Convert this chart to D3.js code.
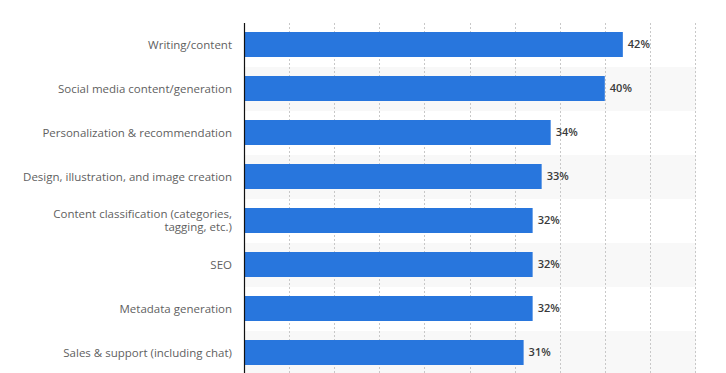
<!DOCTYPE html>
<html>
<head>
<meta charset="utf-8">
<script src="https://cdn.jsdelivr.net/npm/d3@7"></script>
<style>
  body { margin: 0; background: #fff; }
  svg { display: block; }
  .label { font-family: "Open Sans", sans-serif; font-size: 11.5px; fill: #5f5f5f; }
  .value { font-family: "Open Sans", sans-serif; font-size: 11px; font-weight: 600; fill: #3a3a3a; }
</style>
</head>
<body>
<script>
//chart values
var categories = [
    "Writing/content",
    "Social media content/generation",
    "Personalization & recommendation",
    "Design, illustration, and image creation",
    "Content classification (categories, tagging, etc.)",
    "SEO",
    "Metadata generation",
    "Sales & support (including chat)"
];
var shares = [42, 40, 34, 33, 32, 32, 32, 31];
var tickValues = [5, 10, 15, 20, 25, 30, 35, 40, 45, 50];

window.onload = drawChart();

function drawChart(){
    //frame dimensions
    var width = 726,
        height = 373,
        left = 244,
        top = 23,
        plotRight = 695,
        rowStep = 44,
        barHeight = 25;

    var svg = d3.select("body")
        .append("svg")
        .attr("width", width)
        .attr("height", height);

    //scales
    var x = d3.scaleLinear()
        .domain([0, 50])
        .range([left, plotRight]);

    var y = d3.scaleBand()
        .domain(categories)
        .range([top, top + rowStep * categories.length])
        .padding(0);

    //alternating row stripes
    svg.selectAll(".stripe")
        .data(categories.filter(function(d, i){ return i % 2 == 1; }))
        .enter()
        .append("rect")
        .attr("class", "stripe")
        .attr("x", x(0))
        .attr("y", function(d){ return y(d); })
        .attr("width", x(50) - x(0) + 1)
        .attr("height", y.bandwidth())
        .attr("fill", "#f8f8f8");

    //dotted vertical grid lines
    svg.selectAll(".grid")
        .data(tickValues)
        .enter()
        .append("line")
        .attr("class", "grid")
        .attr("x1", function(d){ return Math.round(x(d)) + 0.5; })
        .attr("x2", function(d){ return Math.round(x(d)) + 0.5; })
        .attr("y1", top)
        .attr("y2", height)
        .attr("stroke", "#c8c8c8")
        .attr("stroke-width", 1)
        .attr("stroke-dasharray", "2,2");

    //bars
    var barOffset = (y.bandwidth() - barHeight) / 2 - 0.5;
    svg.selectAll(".bar")
        .data(categories)
        .enter()
        .append("rect")
        .attr("class", "bar")
        .attr("x", x(0))
        .attr("y", function(d){ return y(d) + barOffset; })
        .attr("width", function(d, i){ return x(shares[i]) - x(0); })
        .attr("height", barHeight)
        .attr("fill", "#2876dd");

    //value labels
    svg.selectAll(".value")
        .data(categories)
        .enter()
        .append("text")
        .attr("class", "value")
        .attr("x", function(d, i){ return x(shares[i]) + 5; })
        .attr("y", function(d){ return y(d) + barOffset + barHeight / 2; })
        .attr("dy", "0.35em")
        .text(function(d, i){ return shares[i] + "%"; });

    //category labels, wrapped when too long
    var labels = svg.selectAll(".label")
        .data(categories)
        .enter()
        .append("text")
        .attr("class", "label")
        .attr("text-anchor", "end")
        .attr("y", function(d){ return y(d) + barOffset + barHeight / 2; });

    labels.each(function(d){
        var text = d3.select(this),
            lines = d.length > 45 ? [d.slice(0, d.indexOf("tagging") - 1), d.slice(d.indexOf("tagging"))] : [d],
            lineHeight = 13.7,
            start = -(lines.length - 1) * lineHeight / 2;
        lines.forEach(function(line, i){
            text.append("tspan")
                .attr("x", 232)
                .attr("dy", i == 0 ? start + 4 : lineHeight)
                .text(line);
        });
    });

    //y axis line
    svg.append("line")
        .attr("x1", left + 0.5)
        .attr("x2", left + 0.5)
        .attr("y1", top)
        .attr("y2", height)
        .attr("stroke", "#111")
        .attr("stroke-width", 1.2);
};
</script>
</body>
</html>
